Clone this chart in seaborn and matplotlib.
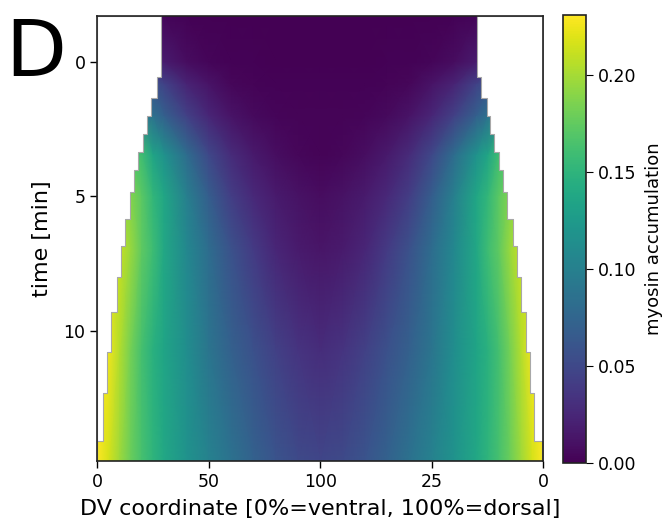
import numpy as np
import matplotlib
matplotlib.use("Agg")
import matplotlib.pyplot as plt
import seaborn as sns

# ---- data ----
# half DV profile (0..100), mirrored to 200
dv_half = [0, 5, 10, 15, 20, 25, 30, 40, 50, 60, 70, 80, 90, 100]
times = [-1.72, 0.0, 0.82, 2.0, 3.45, 5.0, 7.0, 10.75, 14.85]
myo_tm172 = [0.004, 0.004, 0.004, 0.004, 0.004, 0.004, 0.003, 0.001, 0, 0, 0, 0, 0, 0]
myo_t000 = [0.022, 0.022, 0.022, 0.022, 0.022, 0.022, 0.018, 0.008, 0.003, 0.001, 0.001, 0, 0, 0]
myo_t082 = [0.058, 0.058, 0.058, 0.058, 0.058, 0.058, 0.046, 0.023, 0.012, 0.004, 0.002, 0.001, 0.001, 0.001]
myo_t200 = [0.095, 0.095, 0.095, 0.095, 0.095, 0.085, 0.070, 0.045, 0.025, 0.012, 0.006, 0.003, 0.002, 0.002]
myo_t345 = [0.165, 0.165, 0.165, 0.165, 0.160, 0.135, 0.117, 0.082, 0.050, 0.028, 0.016, 0.009, 0.004, 0.002]
myo_t500 = [0.195, 0.195, 0.195, 0.188, 0.172, 0.152, 0.137, 0.100, 0.068, 0.042, 0.027, 0.017, 0.011, 0.008]
myo_t700 = [0.212, 0.212, 0.212, 0.195, 0.174, 0.158, 0.138, 0.108, 0.082, 0.058, 0.040, 0.025, 0.017, 0.013]
myo_t1075 = [0.226, 0.226, 0.204, 0.182, 0.162, 0.147, 0.135, 0.113, 0.090, 0.071, 0.057, 0.045, 0.035, 0.029]
myo_t1485 = [0.233, 0.216, 0.197, 0.178, 0.163, 0.150, 0.138, 0.119, 0.102, 0.087, 0.072, 0.060, 0.052, 0.048]

# tissue boundary (staircase) : time edges and left/right DV limits
bnd_t = [-1.72, 0.54, 1.32, 2.02, 2.67, 3.36, 4.01, 4.85, 5.83, 6.83, 7.98,
         9.30, 10.79, 12.32, 14.10, 14.85]
bnd_left = [28.4, 26.8, 24.1, 22.4, 20.6, 18.4, 16.3, 14.7, 12.3, 10.6, 8.8,
            6.3, 4.5, 2.7, 0.0]
bnd_right = [170.3, 171.9, 174.6, 176.1, 177.9, 180.3, 182.1, 183.6, 186.3,
             188.1, 189.9, 192.1, 194.0, 196.0, 199.3]

xtick_pos = [0, 50, 100, 150, 200]
xtick_lab = ["0", "50", "100", "25", "0"]
ytick_pos = [0, 5, 10]
cbar_ticks = [0.0, 0.05, 0.10, 0.15, 0.20]
vmin, vmax = 0.0, 0.231

# ---- build mesh ----
rows = [myo_tm172, myo_t000, myo_t082, myo_t200, myo_t345, myo_t500,
        myo_t700, myo_t1075, myo_t1485]
xh = np.array(dv_half, float)
x_full = np.concatenate([xh, 200 - xh[::-1][1:]])
C = np.array([np.concatenate([r, r[::-1][1:]]) for r in np.array(rows, float)])
X, T = np.meshgrid(x_full, np.array(times, float))

sns.set_style("ticks")
plt.rcParams['font.family'] = ['DejaVu Sans']
plt.rcParams.update({"text.color": "black", "axes.labelcolor": "black",
                     "xtick.color": "black", "ytick.color": "black",
                     "axes.edgecolor": "black"})
cmap = sns.color_palette("viridis", as_cmap=True)

fig = plt.figure(figsize=(6.72, 5.27), dpi=100)
ax = fig.add_axes([97.3 / 672, 1 - 461 / 527, 446 / 672, 445 / 527])
mesh = ax.pcolormesh(X, T, C, shading="gouraud", cmap=cmap, vmin=vmin, vmax=vmax,
                     rasterized=True)

ys = np.array(bnd_t)
xl = np.array(bnd_left + [bnd_left[-1]])
xr = np.array(bnd_right + [bnd_right[-1]])
ax.fill_betweenx(ys, 0, xl, step="post", facecolor="white", edgecolor="#a8a8a8",
                 linewidth=0.8, zorder=2)
ax.fill_betweenx(ys, xr, 200, step="post", facecolor="white", edgecolor="#a8a8a8",
                 linewidth=0.8, zorder=2)

ax.set_xlim(0, 200)
ax.set_ylim(14.85, -1.72)
ax.set_xticks(xtick_pos)
ax.set_xticklabels(xtick_lab)
ax.set_yticks(ytick_pos)
ax.tick_params(labelsize=12.5, length=5, width=1, color="black", labelcolor="black")
for s in ax.spines.values():
    s.set_color("#222222")
    s.set_linewidth(1.2)
    s.set_zorder(5)
ax.set_xlabel("DV coordinate [0%=ventral, 100%=dorsal]", fontsize=16, labelpad=6,
              color="black")
ax.set_ylabel("time [min]", fontsize=16, labelpad=8, color="black")

cax = fig.add_axes([563.3 / 672, 1 - 463 / 527, 22.7 / 672, 448 / 527])
cb = fig.colorbar(mesh, cax=cax, ticks=cbar_ticks)
cb.ax.set_yticklabels([f"{t:.2f}" for t in cbar_ticks])
cb.ax.tick_params(labelsize=12.5, length=5, color="black", labelcolor="black")
cb.outline.set_linewidth(1.2)
cb.outline.set_edgecolor("#222222")
cb.set_label("myosin accumulation", fontsize=13, labelpad=6, color="black")

fig.text(5 / 672, 1 - 76 / 527, "D", fontsize=57, ha="left", va="baseline",
         color="black")

fig.savefig("out.png", dpi=100)
